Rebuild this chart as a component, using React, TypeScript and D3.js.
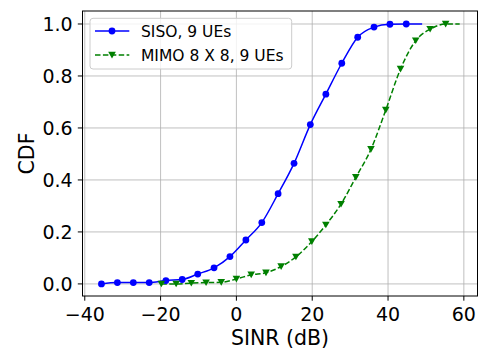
import React from 'react'
import * as d3 from 'd3'

// SINR (dB) values and CDF readings for each curve
const sisoX = [-35.6, -31.4, -27.2, -23.0, -18.6, -14.3, -10.2, -5.9, -1.7, 2.5, 6.7, 11.0, 15.2, 19.5, 23.6, 27.8, 32.0, 36.3, 40.5, 44.8, 49.0]
const sisoY = [0, 0.005, 0.005, 0.005, 0.013, 0.017, 0.038, 0.062, 0.105, 0.169, 0.236, 0.347, 0.464, 0.613, 0.730, 0.849, 0.949, 0.988, 0.999, 1.0, 1.0]
const mimoX = [-19.8, -15.9, -11.9, -8.0, -4.0, 0, 3.9, 7.8, 11.8, 15.7, 19.9, 23.6, 27.6, 31.5, 35.5, 39.4, 43.3, 47.3, 51.1, 55.2, 58.9]
const mimoY = [0, 0, 0.003, 0.005, 0.006, 0.019, 0.035, 0.043, 0.067, 0.104, 0.163, 0.227, 0.307, 0.410, 0.518, 0.669, 0.827, 0.936, 0.98, 1.0, 1.0]

const xTicks = [-40, -20, 0, 20, 40, 60]
const yTicks = [0, 0.2, 0.4, 0.6, 0.8, 1.0]
const seriesNames = ['SISO, 9 UEs', 'MIMO 8 X 8, 9 UEs']

const W = 481
const H = 349
const left = 82.5
const right = 477.5
const top = 11
const bottom = 296
const font = 'DejaVu Sans, sans-serif'

const App = () => {
  const x = d3.scaleLinear().domain([-40.6, 63.6]).range([left, right])
  const y = d3.scaleLinear().domain([-0.0465, 1.05]).range([bottom, top])

  const line = d3.line<[number, number]>()
    .x(d => x(d[0]))
    .y(d => y(d[1]))
    .curve(d3.curveMonotoneX)

  const siso = sisoX.map((v, i) => [v, sisoY[i]] as [number, number])
  const mimo = mimoX.map((v, i) => [v, mimoY[i]] as [number, number])

  // last sample of each curve carries no marker
  const sisoMarks = siso.slice(0, -1)
  const mimoMarks = mimo.slice(0, -1)

  const tri = (cx: number, cy: number, s: number) =>
    `M${cx - s},${cy - s * 0.85}L${cx + s},${cy - s * 0.85}L${cx},${cy + s * 0.9}Z`

  return (
    <svg width={W} height={H} style={{ display: 'block', position: 'absolute', left: 0, top: 0 }}>
      <rect width={W} height={H} fill="#fff" />
      <defs>
        <clipPath id="plot">
          <rect x={left} y={top} width={right - left} height={bottom - top} />
        </clipPath>
      </defs>

      {/* grid */}
      <g stroke="#b0b0b0" strokeWidth={0.8}>
        {xTicks.map(t => (
          <line key={'gx' + t} x1={x(t)} x2={x(t)} y1={top} y2={bottom} />
        ))}
        {yTicks.map(t => (
          <line key={'gy' + t} x1={left} x2={right} y1={y(t)} y2={y(t)} />
        ))}
      </g>

      <g clipPath="url(#plot)">
        <path d={line(siso) || ''} fill="none" stroke="#0000ff" strokeWidth={1.5} />
        <path d={line(mimo) || ''} fill="none" stroke="#008000" strokeWidth={1.5} strokeDasharray="5.5,2.4" />
      </g>
      {sisoMarks.map((d, i) => (
        <circle key={'s' + i} cx={x(d[0])} cy={y(d[1])} r={3.4} fill="#0000ff" />
      ))}
      {mimoMarks.map((d, i) => (
        <path key={'m' + i} d={tri(x(d[0]), y(d[1]), 3.8)} fill="#008000" />
      ))}

      {/* spines */}
      <rect x={left} y={top} width={right - left} height={bottom - top} fill="none" stroke="#000" strokeWidth={1} />

      {/* ticks */}
      <g fontFamily={font} fontSize={19} fill="#000">
        {xTicks.map(t => (
          <g key={'xt' + t}>
            <line x1={x(t)} x2={x(t)} y1={bottom} y2={bottom + 4.7} stroke="#000" />
            <text x={x(t)} y={320.5} textAnchor="middle">{t < 0 ? '\u2212' + Math.abs(t) : t}</text>
          </g>
        ))}
        {yTicks.map(t => (
          <g key={'yt' + t}>
            <line x1={left - 4.7} x2={left} y1={y(t)} y2={y(t)} stroke="#000" />
            <text x={72.7} y={y(t) + 7} textAnchor="end">{t.toFixed(1)}</text>
          </g>
        ))}
      </g>

      <text x={(left + right) / 2} y={345} textAnchor="middle" fontFamily={font} fontSize={20.5}>SINR (dB)</text>
      <text transform={`translate(33.5,${(top + bottom) / 2}) rotate(-90)`} textAnchor="middle" fontFamily={font} fontSize={20.5}>CDF</text>

      {/* legend */}
      <g>
        <rect x={90} y={18.3} width={201.7} height={50.7} rx={3} fill="#fff" fillOpacity={0.8} stroke="#cccccc" strokeWidth={1} />
        <line x1={95} x2={129.3} y1={31} y2={31} stroke="#0000ff" strokeWidth={1.5} />
        <circle cx={112} cy={31} r={3.4} fill="#0000ff" />
        <line x1={95} x2={129.3} y1={55} y2={55} stroke="#008000" strokeWidth={1.5} strokeDasharray="5.5,2.4" />
        <path d={tri(112, 55, 3.8)} fill="#008000" />
        <text x={141} y={36.6} fontFamily={font} fontSize={15.5}>{seriesNames[0]}</text>
        <text x={141} y={60.6} fontFamily={font} fontSize={15.5}>{seriesNames[1]}</text>
      </g>
    </svg>
  )
}

export default App
